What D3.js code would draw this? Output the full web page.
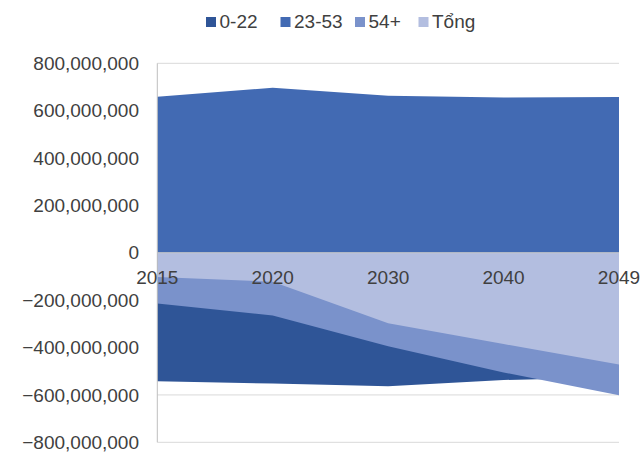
<!DOCTYPE html>
<html>
<head>
<meta charset="utf-8">
<script src="https://cdn.jsdelivr.net/npm/d3@7/dist/d3.min.js"></script>
<style>
  html, body { margin: 0; padding: 0; background: #fff; }
  svg { display: block; }
  text { font-family: "Liberation Sans", Arial, sans-serif; fill: #404040; }
</style>
</head>
<body>
<svg id="chart" width="640" height="453"></svg>
<script>
// ---- data ----
const categories = ["2015", "2020", "2030", "2040", "2049"];
const seriesNames = ["0-22", "23-53", "54+", "Tổng"];
const age0to22  = [-542e6, -552e6, -563e6, -537e6, -525e6];
const age23to53 = [659e6, 697e6, 663e6, 656e6, 658e6];
const age54plus = [-214e6, -265e6, -395e6, -505e6, -601e6];
const total     = [-102e6, -122e6, -297e6, -385e6, -472e6];
const yTicks = [-800e6, -600e6, -400e6, -200e6, 0, 200e6, 400e6, 600e6, 800e6];

const seriesValues = [age0to22, age23to53, age54plus, total];
const colors = ["#2F5597", "#426AB3", "#7A92CB", "#B3BEE0"];

// ---- layout ----
(function () {
const svg = d3.select("#chart");
const plotLeft = 157.3, plotRight = 619, plotTop = 63.3, plotBottom = 442.3;

const x = d3.scalePoint().domain(categories).range([plotLeft, plotRight]);
const y = d3.scaleLinear().domain([-800e6, 800e6]).range([plotBottom, plotTop]);

// gridlines
svg.append("g").selectAll("line").data(yTicks).join("line")
  .attr("x1", plotLeft).attr("x2", plotRight)
  .attr("y1", d => y(d)).attr("y2", d => y(d))
  .attr("stroke", "#d9d9d9").attr("stroke-width", 1);

// areas
const area = d3.area()
  .x((d, i) => x(categories[i]))
  .y0(() => y(0))
  .y1(d => y(d))
  .curve(d3.curveLinear);

svg.append("g").selectAll("path").data(seriesValues).join("path")
  .attr("d", d => area(d))
  .attr("fill", (d, i) => colors[i]);

// horizontal axis line at 0
svg.append("line")
  .attr("x1", plotLeft).attr("x2", plotRight)
  .attr("y1", y(0)).attr("y2", y(0))
  .attr("stroke", "#c8c8c8").attr("stroke-width", 1);

// vertical axis line
svg.append("line")
  .attr("x1", plotLeft).attr("x2", plotLeft)
  .attr("y1", plotTop).attr("y2", plotBottom)
  .attr("stroke", "#bfbfbf").attr("stroke-width", 1);

// y axis labels
const fmt = d3.format(",");
svg.append("g").selectAll("text").data(yTicks).join("text")
  .attr("x", 139).attr("y", d => y(d))
  .attr("dy", "0.35em")
  .attr("text-anchor", "end")
  .style("font-size", "19px")
  .text(d => fmt(d));

// x axis labels
svg.append("g").selectAll("text").data(categories).join("text")
  .attr("x", d => x(d)).attr("y", 283.5)
  .attr("text-anchor", "middle")
  .style("font-size", "19px")
  .text(d => d);

// legend
const legendX = [206, 280.5, 355, 418.5];
const lg = svg.append("g").selectAll("g").data(seriesNames).join("g")
  .attr("transform", (d, i) => `translate(${legendX[i]},0)`);
lg.append("rect")
  .attr("x", 0).attr("y", 17).attr("width", 10).attr("height", 10)
  .attr("fill", (d, i) => colors[i]);
lg.append("text")
  .attr("x", 13.5).attr("y", 27.5)
  .style("font-size", "19px")
  .text(d => d);
})();
</script>
</body>
</html>
